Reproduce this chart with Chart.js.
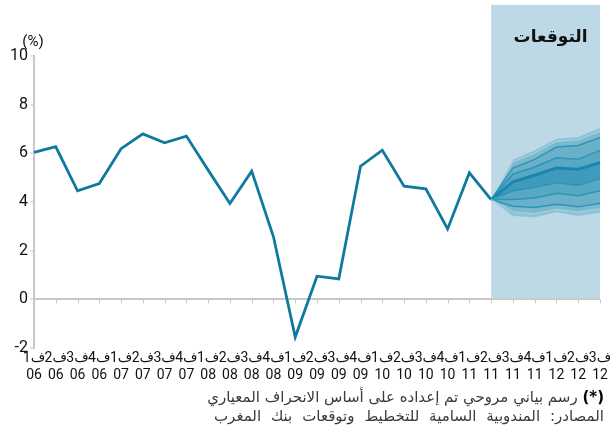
<!DOCTYPE html>
<html>
<head>
<meta charset="utf-8">
<script src="https://cdn.jsdelivr.net/npm/chart.js@4"></script>
<style>
  body { margin: 0; background: #fff; }
  #wrap { position: relative; width: 610px; height: 430px; }
  .note { position: absolute; right: 6px; width: 390px; direction: rtl; font-family: "DejaVu Sans", sans-serif; font-size: 15px; color: #3a3a3a; white-space: nowrap; text-align: justify; text-align-last: justify; }
</style>
</head>
<body>
<div id="wrap">
  <canvas id="myChart" width="610" height="430"></canvas>
  <div class="note" style="top:388px"><b style="color:#000">(*)</b> رسم بياني مروحي تم إعداده على أساس الانحراف المعياري</div>
  <div class="note" style="top:407px">المصادر: المندوبية السامية للتخطيط وتوقعات بنك المغرب</div>
</div>
<script>
const quarterLabels = ['ف1','ف2','ف3','ف4','ف1','ف2','ف3','ف4','ف1','ف2','ف3','ف4','ف1','ف2','ف3','ف4','ف1','ف2','ف3','ف4','ف1','ف2','ف3','ف4','ف1','ف2','ف3'];
const yearLabels = ['06','06','06','06','07','07','07','07','08','08','08','08','09','09','09','09','10','10','10','10','11','11','11','11','12','12','12'];

// observed inflation, 06Q1 .. 11Q2
const inflation = [6.04, 6.27, 4.46, 4.76, 6.19, 6.80, 6.43, 6.71, 5.31, 3.94, 5.27, 2.57, -1.55, 0.95, 0.84, 5.47, 6.13, 4.65, 4.54, 2.89, 5.20, 4.10];

// fan chart bounds, 11Q2 .. 12Q3
const fanTopEdge     = [4.1, 5.74, 6.13, 6.60, 6.67, 7.04];
const fanTopLight    = [4.1, 5.64, 6.01, 6.49, 6.56, 6.90];
const fanUpper2      = [4.1, 5.39, 5.75, 6.26, 6.32, 6.65];
const fanUpper1      = [4.1, 5.14, 5.44, 5.82, 5.76, 6.12];
const fanCentral     = [4.1, 4.83, 5.10, 5.40, 5.35, 5.62];
const fanLower1      = [4.1, 4.46, 4.61, 4.79, 4.69, 4.96];
const fanLower2      = [4.1, 4.10, 4.16, 4.36, 4.26, 4.46];
const fanLower3      = [4.1, 3.83, 3.77, 3.91, 3.80, 3.95];
const fanBottomLight = [4.1, 3.60, 3.52, 3.70, 3.58, 3.72];
const fanBottomEdge  = [4.1, 3.42, 3.37, 3.58, 3.42, 3.56];

const forecastStart = 21;
const labels = quarterLabels.map((q, i) => [q, yearLabels[i]]);
const pad = arr => Array(forecastStart).fill(null).concat(arr);

function band(data, fillColor, lineColor, lineWidth, fill) {
  return {
    data: pad(data),
    borderColor: lineColor,
    borderWidth: lineWidth,
    backgroundColor: fillColor,
    fill: fill,
    pointRadius: 0,
    tension: 0
  };
}

const fanSets = [
  band(fanBottomEdge, 'rgba(0,0,0,0)', 'rgba(0,0,0,0)', 0, false),
  band(fanBottomLight, '#8ec3d6', '#a9d2e0', 1, '-1'),
  band(fanLower3, '#7cb9cf', '#2e94b6', 1.5, '-1'),
  band(fanLower2, '#6ab0c9', '#2e94b6', 1.5, '-1'),
  band(fanLower1, '#58a7c3', '#2e94b6', 1.5, '-1'),
  band(fanCentral, '#3e9bbb', '#1987ad', 3, '-1'),
  band(fanUpper1, '#58a7c3', '#2e94b6', 1.5, '-1'),
  band(fanUpper2, '#6ab0c9', '#2e94b6', 1.5, '-1'),
  band(fanTopLight, '#7cb9cf', '#a9d2e0', 1, '-1'),
  band(fanTopEdge, '#8ec3d6', 'rgba(0,0,0,0)', 0, '-1')
];

const extras = {
  id: 'extras',
  beforeDatasetsDraw(chart) {
    const {ctx, scales: {x, y}} = chart;
    const x0 = x.getPixelForValue(forecastStart);
    const x1 = x.getPixelForValue(labels.length - 1);
    const yTop = y.getPixelForValue(12.1);
    const yBot = y.getPixelForValue(0) - 1;
    ctx.save();
    ctx.fillStyle = '#bcd9e5';
    ctx.fillRect(x0, yTop, x1 - x0, yBot - yTop);
    ctx.fillStyle = '#111';
    ctx.font = 'bold 17px "DejaVu Sans", sans-serif';
    ctx.textAlign = 'center';
    ctx.textBaseline = 'middle';
    ctx.direction = 'rtl';
    ctx.fillText('التوقعات', (x0 + x1) / 2 + 5, 38);
    ctx.restore();
  },
  afterDraw(chart) {
    const {ctx, scales: {x, y}} = chart;
    const y0 = y.getPixelForValue(0);
    ctx.save();
    ctx.strokeStyle = '#c8c8c8';
    ctx.lineWidth = 1;
    for (let i = 1; i < labels.length; i++) {
      const px = Math.round(x.getPixelForValue(i)) + 0.5;
      ctx.beginPath();
      ctx.moveTo(px, y0);
      ctx.lineTo(px, y0 + 4);
      ctx.stroke();
    }
    ctx.fillStyle = '#111';
    ctx.font = '15px Roboto, sans-serif';
    ctx.textAlign = 'center';
    ctx.textBaseline = 'middle';
    ctx.fillText('(%)', 33, 42);
    ctx.restore();
  }
};

const ctx = document.getElementById('myChart').getContext('2d');
const myChart = new Chart(ctx, {
  type: 'line',
  data: {
    labels: labels,
    datasets: fanSets.concat([{
      data: inflation,
      borderColor: '#107a9e',
      borderWidth: 2.8,
      pointRadius: 0,
      fill: false,
      tension: 0
    }])
  },
  options: {
    responsive: false,
    animation: false,
    layout: { padding: { top: 56, right: 10, left: 0, bottom: 0 } },
    plugins: { legend: { display: false }, tooltip: { enabled: false } },
    scales: {
      x: {
        grid: { display: false, drawTicks: false },
        border: { display: false },
        ticks: {
          autoSkip: false, maxRotation: 0, padding: 2,
          color: '#111', font: { family: 'Roboto, "DejaVu Sans", sans-serif', size: 14 }
        },
        afterFit: s => { s.height = 82; s.paddingLeft = 0; s.paddingRight = 0; }
      },
      y: {
        min: -2, max: 10,
        border: { display: true, color: '#c8c8c8', width: 2 },
        grid: {
          color: c => c.tick && c.tick.value === 0 ? '#c8c8c8' : 'rgba(0,0,0,0)',
          lineWidth: 2,
          tickColor: '#c8c8c8',
          tickLength: 4,
          tickWidth: 1
        },
        ticks: {
          stepSize: 2, padding: 2,
          color: '#111', font: { family: 'Roboto, sans-serif', size: 16 }
        },
        afterFit: s => { s.width = 34; }
      }
    }
  },
  plugins: [extras]
});
</script>
</body>
</html>
